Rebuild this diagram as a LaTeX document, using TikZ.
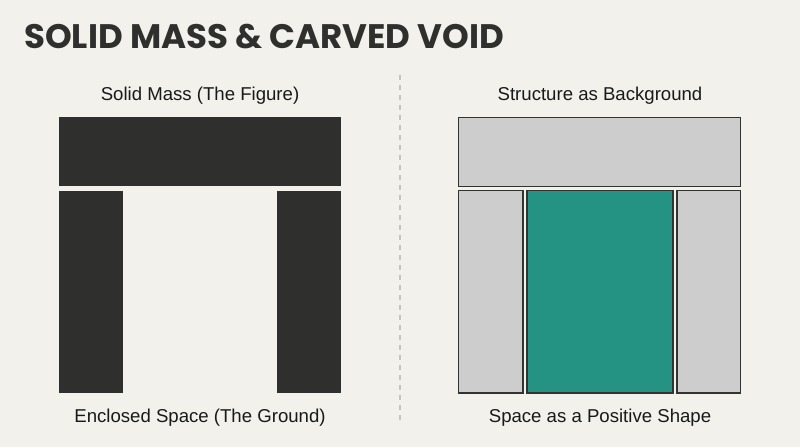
\documentclass[tikz,border=0pt]{standalone}
\usepackage{fontspec}
\setmainfont{Liberation Sans}
\newfontfamily\titlefont{Poppins}[UprightFont=* Bold]
\definecolor{bgc}{HTML}{F2F1EB}
\definecolor{darkc}{HTML}{2F2F2D}
\definecolor{grayc}{HTML}{CDCDCD}
\definecolor{edgec}{HTML}{333331}
\definecolor{tealc}{HTML}{249384}
\definecolor{dashc}{HTML}{C4C4C0}
\tikzset{
  solid block/.style={fill=darkc, draw=none},
  bg block/.style={fill=grayc, draw=edgec, line width=1.8pt},
  void block/.style={fill=tealc, draw=edgec, line width=1.8pt},
  label text/.style={font=\fontsize{18.6}{20}\selectfont, text=black!90, inner sep=0pt},
}
\begin{document}
\begin{tikzpicture}[x=1pt,y=-1pt]
\fill[bgc] (0,0) rectangle (800,447);
\useasboundingbox (0,0) rectangle (800,447);
\node[anchor=west, inner sep=0pt, text=darkc, font=\titlefont\fontsize{34}{36}\selectfont] (title) at (24,37) {SOLID MASS \& CARVED VOID};
\draw[dashc, line width=1.3pt, dash pattern=on 5pt off 5pt] (400,75) coordinate (d1) -- (400,424) coordinate (d2);
% left
\node[label text] (lt) at (200,96) {Solid Mass (The Figure)};
\fill[solid block] (59,117) rectangle (341,186);
\fill[solid block] (59,191) rectangle (123,393);
\fill[solid block] (277,191) rectangle (341,393);
\node[label text] (lb) at (200,418) {Enclosed Space (The Ground)};
% right
\node[label text] (rt) at (600,96) {Structure as Background};
\draw[bg block] (458.5,117.5) rectangle (740.5,186.5);
\draw[bg block] (458.5,190.5) rectangle (523,393);
\draw[void block] (527,190.5) rectangle (673,393);
\draw[bg block] (677,190.5) rectangle (740.5,393);
\node[label text] (rb) at (600,418) {Space as a Positive Shape};
\end{tikzpicture}
\end{document}
